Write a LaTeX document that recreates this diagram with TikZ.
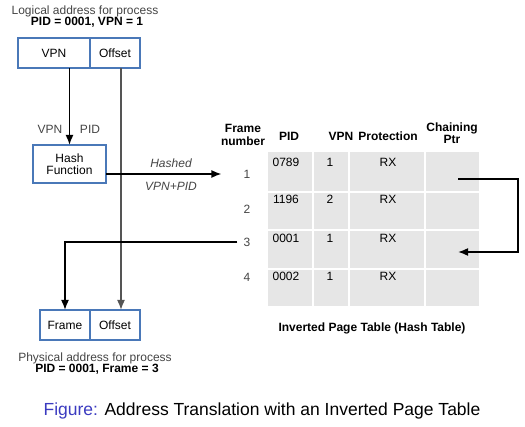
\documentclass[tikz,border=0pt]{standalone}
\usepackage{fontspec}
\setmainfont{Liberation Sans}
\usetikzlibrary{arrows.meta,positioning}
\definecolor{boxblue}{HTML}{4A78B8}
\definecolor{tablegray}{HTML}{E6E6E6}
\definecolor{figblue}{HTML}{3B3BC0}
\definecolor{textgray}{HTML}{444444}
\definecolor{offgray}{HTML}{555555}

\begin{document}
\begin{tikzpicture}[x=1pt,y=-1pt,
    every node/.style={font=\fontsize{12}{12}\selectfont, inner sep=0pt},
    addr/.style={draw=boxblue, line width=1.3pt, minimum height=30, outer sep=0pt, inner sep=0pt},
    conn/.style={line width=1.6pt, -{Latex[length=10pt,width=8pt]}},
    hdr/.style={font=\fontsize{12}{13}\selectfont\bfseries, align=center},
    bold/.style={font=\fontsize{12}{12}\selectfont\bfseries},
  ]
  \useasboundingbox (0,0) rectangle (525,427);

  % logical address
  \node[textgray] (logtitle) at (85,11) {Logical address for process};
  \node[bold] (logsub) at (87,22) {PID = 0001, VPN = 1};
  \node[addr, minimum width=72] (lvpn) at (54,53) {VPN};
  \node[addr, minimum width=50, right=0pt of lvpn] (loff) {Offset};

  % hash function
  \node[addr, minimum width=73, minimum height=38, align=center,
        font=\fontsize{12}{12}\selectfont] (hash) at (69.5,164) {Hash\\Function};
  \node[textgray] (vpnlbl) at (50,129) {VPN};
  \node[textgray] (pidlbl) at (90,129) {PID};

  % physical address
  \node[addr, minimum width=50] (pframe) at (65,325) {Frame};
  \node[addr, minimum width=50, right=0pt of pframe] (poff) {Offset};
  \node[textgray] (phystitle) at (95,358) {Physical address for process};
  \node[bold] (physsub) at (97,369) {PID = 0001, Frame = 3};

  % inverted page table
  \fill[tablegray] (268,152) rectangle (479,306);
  \foreach \cx in {313,349,425}
    \draw[white, line width=1.5pt] (\cx,152) -- (\cx,306);
  \foreach \cy in {192,230,269}
    \draw[white, line width=1.5pt] (268,\cy) -- (479,\cy);

  \node[hdr] (hframe) at (243,135) {Frame\\number};
  \node[hdr] (hpid) at (289,136) {PID};
  \node[hdr] (hvpn) at (341,136) {VPN};
  \node[hdr] (hprot) at (388,136) {Protection};
  \node[hdr, font=\fontsize{12}{10}\selectfont\bfseries] (hchain) at (452,133) {Chaining\\Ptr};

  \foreach \pid/\vpn/\ry [count=\i] in {0789/1/162,1196/2/199,0001/1/238,0002/1/276} {
    \node (pid\i) at (286,\ry) {\pid};
    \node (vpn\i) at (330,\ry) {\vpn};
    \node (prot\i) at (388,\ry) {RX};
  }
  \foreach \fy [count=\i] in {174,209,242,277}
    \node[textgray] (fn\i) at (247,\fy) {\i};

  \node[bold] (tabtitle) at (372,328) {Inverted Page Table (Hash Table)};

  % connectors
  \draw[conn] (lvpn.south -| hash.north) -- (hash.north);
  \draw[conn, color=offgray] ([xshift=6pt]loff.south) -- ([xshift=6pt]poff.north);
  \draw[conn] (hash.east |- fn1) -- ([xshift=-22pt]fn1.west);
  \node[textgray, font=\fontsize{12}{12}\selectfont\itshape] (hashedlbl) at (171,163) {Hashed};
  \node[textgray, font=\fontsize{12}{12}\selectfont\itshape] (vpnpidlbl) at (171,186) {VPN+PID};
  \draw[conn, shorten <=6pt] (fn3.west) -| (pframe.north);

  \coordinate (chainout) at (458,179);
  \coordinate (chainin) at (458,252);
  \draw[conn] (chainout) -- ++(60,0) |- (chainin);

  % caption
  \node[font=\fontsize{17.5}{18}\selectfont] (caption) at (262,411)
    {\textcolor{figblue}{Figure:} Address Translation with an Inverted Page Table};
\end{tikzpicture}
\end{document}
